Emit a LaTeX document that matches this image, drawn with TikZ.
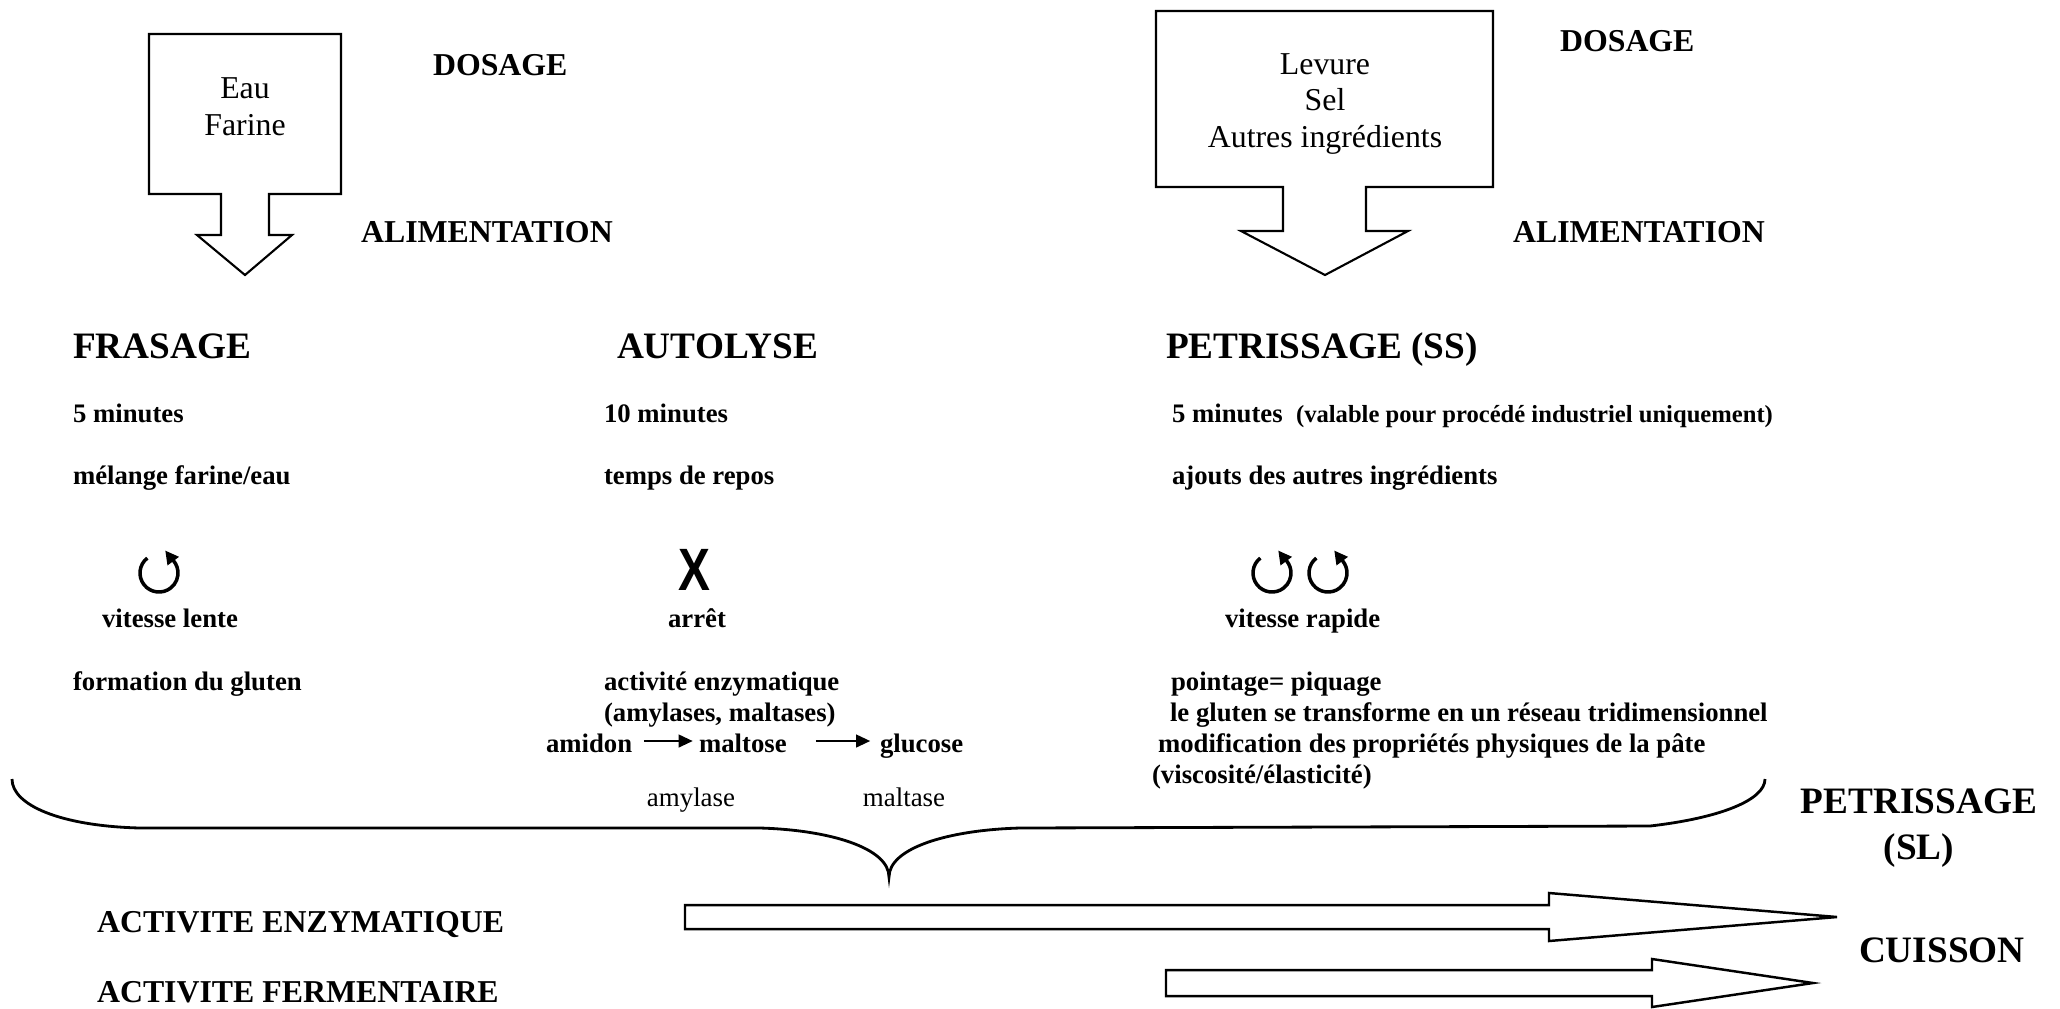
\documentclass[tikz,border=0pt]{standalone}
\usepackage{graphicx}
\usepackage{fontspec}
\setmainfont{Liberation Serif}
\newfontfamily\xfont{Liberation Sans}
\usetikzlibrary{arrows,arrows.meta,positioning,calc}

\begin{document}
\begin{tikzpicture}[x=0.01cm,y=-0.01cm,line width=0.6pt,
  txt/.style={inner sep=0pt,anchor=west,text height=0.66em,text depth=0pt},
  titre/.style={txt,font=\fontsize{10.6}{13}\selectfont\bfseries},
  etape/.style={txt,font=\fontsize{9.05}{10.5}\selectfont\bfseries},
  detail/.style={txt,font=\fontsize{7.6}{8.8}\selectfont\bfseries},
  enzyme/.style={txt,anchor=center,font=\fontsize{7.65}{9}\selectfont},
  ingr/.style={inner sep=0pt,align=center,font=\fontsize{9.05}{10.5}\selectfont},
  fleche/.style={line width=0.6pt,-{Triangle[length=4pt,width=3.6pt]}},
  tour/.style={line width=1pt,-{Triangle[length=3.8pt,width=3.8pt]}}]
\useasboundingbox (0,0) rectangle (2060,1008);

% dosage / alimentation
\draw (149,34) -- (341,34) -- (341,194) -- (269,194) -- (269,235) -- (292,235)
  -- (245,275) -- (197,235) -- (221,235) -- (221,194) -- (149,194) -- cycle;
\node[ingr] (eau) at (245,107) {Eau\\Farine};
\draw (1156,11) -- (1493,11) -- (1493,187) -- (1366,187) -- (1366,231) -- (1408,231)
  -- (1325,275) -- (1241,231) -- (1283,231) -- (1283,187) -- (1156,187) -- cycle;
\node[ingr] (levure) at (1325,104) {Levure\\Sel\\Autres ingrédients};
\node[etape] (dos1) at (432,64) {DOSAGE};
\node[etape] (ali1) at (360,231) {ALIMENTATION};
\node[etape] (dos2) at (1559,40) {DOSAGE};
\node[etape] (ali2) at (1512,231) {ALIMENTATION};

% etapes
\node[titre] (frasage) at (72,347) {FRASAGE};
\node[titre] (autolyse) at (616,347) {AUTOLYSE};
\node[titre] (petriss) at (1165,347) {PETRISSAGE (SS)};
\node[detail] (duree1) at (72,411) {5 minutes};
\node[detail] (duree2) at (603,411) {10 minutes};
\node[detail] (duree3) at (1171,411) {5 minutes\ \ {\fontsize{7}{8}\selectfont(valable pour procédé industriel uniquement)}};
\node[detail] (act1) at (72,473) {mélange farine/eau};
\node[detail] (act2) at (603,473) {temps de repos};
\node[detail] (act3) at (1171,473) {ajouts des autres ingrédients};

% vitesses
\foreach \cx in {159,1272,1328}
  \draw[tour] (\cx,573) ++(232:19) arc[start angle=232,end angle=-50,radius=19] -- ++(-6,-8);
\node[inner sep=0pt,font=\xfont\fontsize{17}{17}\selectfont\bfseries] (stop) at (694,570) {\scalebox{0.8}[1]{X}};
\node[detail] (vit1) at (101,616) {vitesse lente};
\node[detail,anchor=center] (vit2) at (697,616) {arrêt};
\node[detail] (vit3) at (1224,616) {vitesse rapide};

% effets
\node[detail] (eff1) at (72,679) {formation du gluten};
\node[detail] (eff2) at (603,679) {activité enzymatique};
\node[detail] (eff2b) at (603,710) {(amylases, maltases)};
\node[detail] (amidon) at (545,741) {amidon};
\node[detail] (maltose) at (698,741) {maltose};
\node[detail] (glucose) at (879,741) {glucose};
\draw[fleche,shorten <=3pt,shorten >=1.5pt] (amidon.east) -- (maltose.west);
\draw[fleche,shorten <=8pt,shorten >=2.5pt] (maltose.east) -- (glucose.west);
\node[enzyme] (amylase) at (691,795) {amylase};
\node[enzyme] (maltase) at (904,795) {maltase};
\node[detail] (eff3) at (1170,679) {pointage= piquage};
\node[detail] (eff3b) at (1169,710) {le gluten se transforme en un réseau tridimensionnel};
\node[detail] (eff3c) at (1157,741) {modification des propriétés physiques de la pâte};
\node[detail] (eff3d) at (1151,772) {(viscosité/élasticité)};

% accolade
\draw[line width=0.8pt] (12,779) .. controls (12,805) and (60,826) .. (140,828) -- (760,828)
  .. controls (830,830) and (889,848) .. (889,877)
  .. controls (889,848) and (948,830) .. (1020,828) -- (1650,826)
  .. controls (1720,818) and (1765,800) .. (1765,779);
\node[inner sep=0pt,align=center,font=\fontsize{10.6}{13.1}\selectfont\bfseries] (petrisl) at (1919,828) {PETRISSAGE\\(SL)};

% activites
\node[etape] (actenz) at (96,921) {ACTIVITE ENZYMATIQUE};
\node[etape] (actferm) at (96,991) {ACTIVITE FERMENTAIRE};
\node[titre] (cuisson) at (1858,951) {CUISSON};
\draw[line width=0.7pt] (685,905) -- (1549,905) -- (1549,893) -- (1837,917) -- (1549,941)
  -- (1549,929) -- (685,929) -- cycle;
\draw[line width=0.7pt] (1166,970) -- (1652,970) -- (1652,959) -- (1813,983) -- (1652,1007)
  -- (1652,996) -- (1166,996) -- cycle;
\end{tikzpicture}
\end{document}
